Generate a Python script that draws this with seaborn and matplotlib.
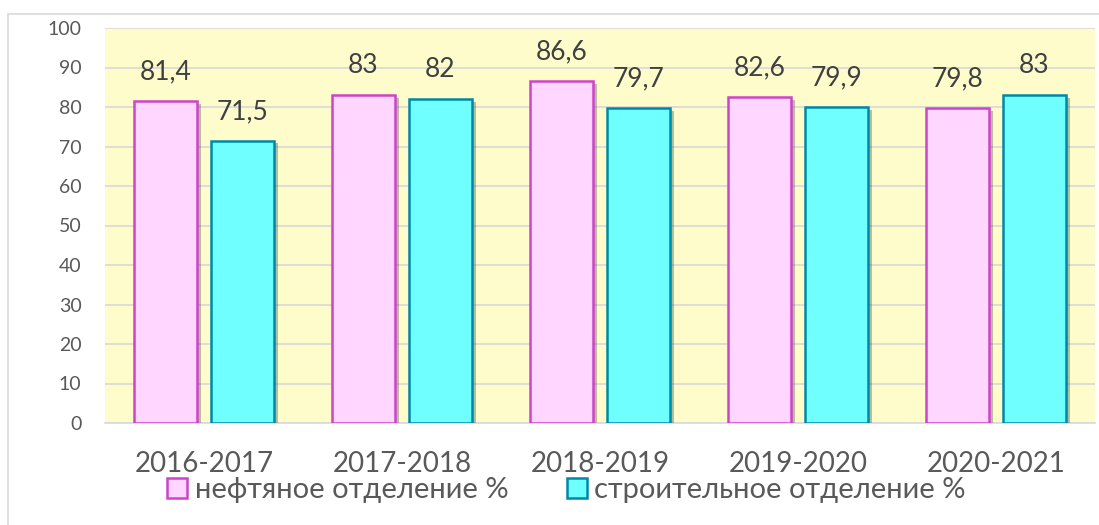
import pandas as pd
import numpy as np
import matplotlib
matplotlib.use("Agg")
import matplotlib.pyplot as plt
import matplotlib.patheffects as pe
import seaborn as sns
from matplotlib.patches import Rectangle

# данные с картинки
years = ['2016-2017', '2017-2018', '2018-2019', '2019-2020', '2020-2021']
neft = [81.4, 83, 86.6, 82.6, 79.8]
stroy = [71.5, 82, 79.7, 79.9, 83]
series_names = ['нефтяное отделение %', 'строительное отделение %']

df = pd.DataFrame({
    'Год': years * 2,
    'Значение': neft + stroy,
    'Отделение': [series_names[0]] * len(years) + [series_names[1]] * len(years),
})

sns.set_theme(style='white')
plt.rcParams['font.family'] = ['Lato', 'DejaVu Sans']
text_color = '#595959'

fig = plt.figure(figsize=(10.99, 5.25), dpi=100)
ax = fig.add_axes([105 / 1099, 1 - 423 / 525, 990 / 1099, 395 / 525])

# рамка вокруг всей диаграммы
fig.patches.append(Rectangle((8 / 1099, -0.05), 1.2, 1 - 14 / 525 + 0.05,
                             transform=fig.transFigure, fill=False,
                             edgecolor='#D9D9D9', linewidth=1.2, zorder=0))

palette = {series_names[0]: '#FFD6FF', series_names[1]: '#6FFFFF'}
edges = ['#CC44CC', '#0088AA']

sns.barplot(data=df, x='Год', y='Значение', hue='Отделение', palette=palette,
            saturation=1, width=0.778, gap=0.17, ax=ax, zorder=3)

shadow = [pe.SimplePatchShadow(offset=(2.5, -2), alpha=0.35), pe.Normal()]
for cont, ec in zip(ax.containers, edges):
    for bar in cont:
        bar.set_edgecolor(ec)
        bar.set_linewidth(1.8)
        bar.set_path_effects(shadow)

for cont, vals in zip(ax.containers, [neft, stroy]):
    labels = [('%g' % v).replace('.', ',') for v in vals]
    ax.bar_label(cont, labels=labels, padding=12, fontsize=19, color='#404040')

ax.set_facecolor('#FEFCCB')
ax.set_ylim(0, 100)
ax.set_yticks(np.arange(0, 101, 10))
ax.set_xlim(-0.5, 4.5)
ax.yaxis.grid(True, color='#D9D9D9', linewidth=1.2, zorder=0)
ax.set_axisbelow(True)
for s in ['top', 'right', 'left']:
    ax.spines[s].set_visible(False)
ax.spines['bottom'].set_color('#D9D9D9')
ax.spines['bottom'].set_linewidth(1.2)

ax.tick_params(axis='y', labelsize=14, labelcolor=text_color, length=0, pad=17)
ax.tick_params(axis='x', labelsize=20, labelcolor=text_color, length=0, pad=20)
ax.set_xlabel('')
ax.set_ylabel('')

handles, lbls = ax.get_legend_handles_labels()
leg = ax.legend(handles, lbls, loc='center', bbox_to_anchor=(0.466, -0.17), ncol=2,
                frameon=False, fontsize=21, labelcolor=text_color,
                handlelength=0.7, handleheight=0.7, handletextpad=0.25,
                columnspacing=2.0, borderaxespad=0)
for h, ec in zip(leg.get_patches(), edges):
    h.set_edgecolor(ec)
    h.set_linewidth(1.8)

fig.savefig('out.png', dpi=100, facecolor='white')
